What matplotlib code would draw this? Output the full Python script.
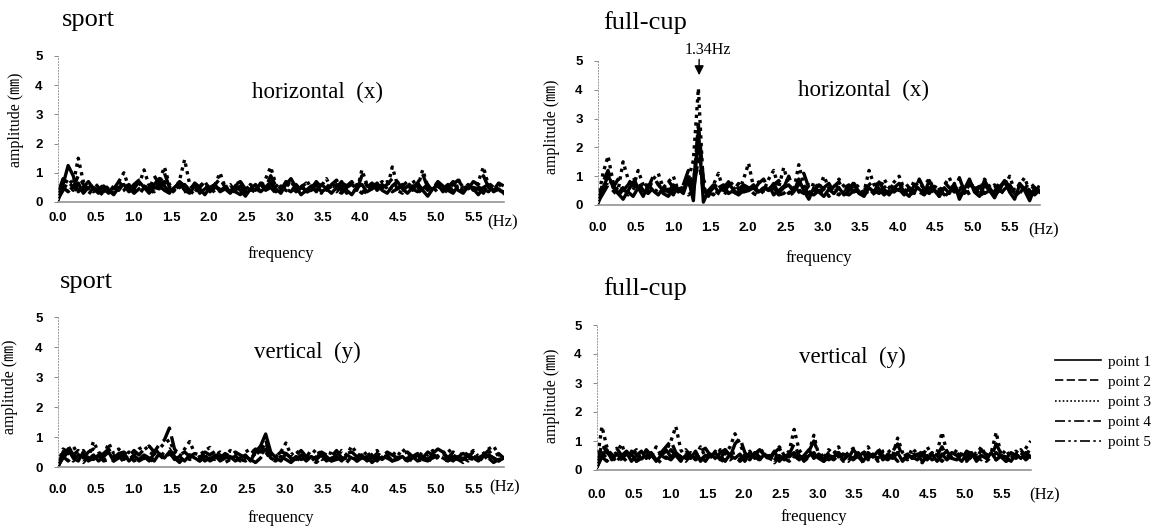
import numpy as np
import matplotlib
matplotlib.use("Agg")
import matplotlib.pyplot as plt
from matplotlib.lines import Line2D

# frequency resolution of the spectra (Hz)
DF = 0.067

# ---------------- sport, horizontal (x) ----------------
tl_p1 = [0.05,0.6,1.25,0.9,0.35,0.5,0.7,0.45,0.3,0.55,
         0.4,0.25,0.5,0.6,0.35,0.45,0.7,0.5,0.3,0.6,
         0.8,0.55,0.35,0.5,0.65,0.4,0.3,0.55,0.45,0.25,
         0.5,0.6,0.35,0.45,0.3,0.55,0.4,0.2,0.45,0.6,
         0.35,0.5,0.7,0.45,0.3,0.6,0.8,0.5,0.25,0.4,
         0.55,0.35,0.6,0.45,0.3,0.5,0.7,0.4,0.25,0.5,
         0.6,0.35,0.45,0.65,0.4,0.3,0.55,0.7,0.45,0.3,
         0.5,0.65,0.4,0.2,0.45,0.6,0.35,0.5,0.7,0.4,
         0.3,0.55,0.45,0.25,0.5,0.6,0.35,0.45,0.3]
tl_p2 = [0.1,0.4,0.7,0.5,0.9,0.6,0.45,0.7,0.5,0.35,
         0.6,0.45,0.7,0.5,0.4,0.6,0.75,0.55,0.4,0.9,
         0.6,1.0,0.5,0.45,0.7,0.55,0.4,0.65,0.5,0.7,
         0.45,0.6,0.8,0.5,0.35,0.6,0.7,0.45,0.55,0.4,
         0.65,0.5,0.9,0.55,0.4,0.7,0.6,0.35,0.5,0.65,
         0.45,0.7,0.5,0.4,0.6,0.75,0.45,0.55,0.7,0.4,
         0.9,0.55,0.45,0.7,0.5,0.6,0.8,0.45,0.55,0.7,
         0.4,0.65,0.95,0.5,0.45,0.7,0.55,0.4,0.6,0.75,
         0.5,0.45,0.7,0.6,0.9,0.5,0.4,0.65,0.55]
tl_p3 = [0.2,0.5,0.8,0.6,1.5,0.7,0.4,0.55,0.35,0.6,
         0.45,0.3,0.7,1.0,0.5,0.4,0.6,1.1,0.55,0.35,
         0.7,1.2,0.6,0.4,0.75,1.45,0.6,0.35,0.55,0.7,
         0.4,0.6,1.0,0.5,0.3,0.55,0.7,0.4,0.6,0.45,
         0.55,0.8,1.2,0.6,0.4,0.5,0.7,0.45,0.35,0.6,
         0.7,0.4,0.55,0.8,0.45,0.6,0.4,0.7,0.5,0.35,
         1.1,0.6,0.4,0.55,0.7,0.45,1.2,0.6,0.35,0.5,
         0.75,0.5,1.1,0.55,0.4,0.65,0.5,0.3,0.6,0.8,
         0.45,0.6,0.4,0.7,1.2,0.55,0.4,0.6,0.5]
tl_p4 = [0.3,0.8,0.6,0.4,0.65,0.3,0.5,0.35,0.6,0.45,
         0.3,0.55,0.4,0.65,0.5,0.3,0.45,0.6,0.35,0.5,
         0.45,0.7,0.55,0.3,0.5,0.6,0.4,0.25,0.5,0.6,
         0.35,0.5,0.45,0.6,0.3,0.4,0.55,0.35,0.25,0.5,
         0.6,0.4,0.5,0.3,0.55,0.45,0.35,0.6,0.4,0.3,
         0.5,0.6,0.35,0.45,0.7,0.4,0.3,0.5,0.6,0.45,
         0.3,0.5,0.65,0.4,0.55,0.7,0.35,0.45,0.6,0.4,
         0.55,0.3,0.45,0.6,0.35,0.5,0.65,0.4,0.3,0.55,
         0.6,0.35,0.5,0.45,0.3,0.65,0.5,0.4,0.35]
tl_p5 = [0.15,0.5,0.35,0.55,0.3,0.45,0.25,0.5,0.4,0.2,
         0.45,0.55,0.3,0.4,0.6,0.35,0.25,0.5,0.45,0.3,
         0.55,0.4,0.3,0.6,0.45,0.35,0.5,0.6,0.3,0.45,
         0.55,0.3,0.4,0.5,0.6,0.35,0.25,0.5,0.4,0.55,
         0.3,0.45,0.6,0.35,0.5,0.4,0.3,0.55,0.6,0.35,
         0.4,0.5,0.3,0.6,0.45,0.35,0.55,0.3,0.45,0.6,
         0.4,0.3,0.55,0.45,0.6,0.35,0.5,0.4,0.3,0.55,
         0.45,0.35,0.6,0.4,0.55,0.3,0.45,0.6,0.35,0.5,
         0.4,0.6,0.3,0.5,0.45,0.35,0.55,0.4,0.3]

# ---------------- full-cup, horizontal (x) ----------------
tr_p1 = [0.05,0.6,1.0,0.7,0.4,0.2,0.5,0.8,0.6,0.3,
         0.7,0.5,0.35,0.6,0.45,0.7,0.55,0.4,0.9,0.15,
         2.6,0.1,0.5,0.7,0.45,0.6,0.8,0.5,0.4,0.65,
         0.55,0.7,0.45,0.6,0.5,0.75,0.4,0.6,0.7,0.45,
         0.9,0.5,0.2,0.6,0.45,0.3,0.55,0.4,0.6,0.35,
         0.5,0.7,0.4,0.3,0.6,0.45,0.8,0.5,0.35,0.6,
         0.75,0.45,0.3,0.7,0.55,0.4,0.85,0.5,0.3,0.6,
         0.4,0.75,0.2,0.55,0.9,0.45,0.3,0.7,0.5,0.25,
         0.6,0.85,0.45,0.2,0.7,0.5,0.15,0.6,0.45]
tr_p2 = [0.1,0.8,1.2,0.6,0.9,0.5,0.7,1.0,0.55,0.8,
         0.6,1.0,0.7,0.5,0.85,0.6,0.45,0.7,1.2,0.6,
         2.8,0.9,0.4,0.6,0.75,0.5,0.65,0.8,0.55,0.7,
         0.6,0.5,0.75,0.9,0.55,0.7,0.85,0.6,1.0,0.5,
         0.7,1.1,0.6,0.45,0.7,0.55,0.4,0.65,0.8,0.5,
         0.6,0.75,0.5,0.4,0.7,0.85,0.55,0.45,0.7,0.6,
         0.5,0.8,0.6,0.4,0.9,0.55,0.7,0.5,0.45,0.8,
         0.6,0.5,0.95,0.45,0.7,0.6,0.4,0.85,0.55,0.7,
         0.5,0.9,0.6,0.4,0.75,0.55,0.8,0.6,0.5]
tr_p3 = [0.2,1.1,1.7,0.8,0.5,1.5,0.9,0.6,1.2,0.7,
         0.5,0.9,1.1,0.6,0.8,1.0,0.5,0.7,0.9,1.55,
         4.05,0.6,0.3,0.7,1.1,0.5,0.8,0.6,0.45,0.9,
         1.45,0.6,0.8,0.5,0.9,1.2,0.6,1.3,0.7,0.5,
         1.4,0.7,0.3,0.8,0.55,1.0,0.6,0.4,0.9,0.65,
         0.5,0.8,0.6,0.45,1.2,0.7,0.5,0.9,0.6,0.8,
         1.0,0.55,0.4,0.85,0.6,0.7,0.9,0.5,0.3,0.7,
         0.95,0.5,0.7,0.4,0.8,0.6,0.5,0.9,0.65,0.45,
         0.8,0.6,1.0,0.5,0.7,0.95,0.45,0.7,0.6]
tr_p4 = [0.15,0.5,0.9,0.7,0.4,0.6,0.35,0.55,0.8,0.5,
         0.4,0.6,0.75,0.45,0.55,0.35,0.7,0.5,0.6,0.8,
         2.2,0.6,0.45,0.35,0.6,0.7,0.4,0.5,0.75,0.45,
         0.5,0.6,0.4,0.55,0.7,0.35,0.5,0.65,0.4,0.6,
         0.5,0.4,0.7,0.55,0.3,0.6,0.75,0.45,0.35,0.6,
         0.7,0.45,0.55,0.65,0.35,0.5,0.4,0.6,0.75,0.45,
         0.55,0.35,0.6,0.45,0.7,0.5,0.4,0.65,0.55,0.35,
         0.6,0.45,0.5,0.7,0.35,0.55,0.65,0.4,0.5,0.6,
         0.35,0.55,0.7,0.45,0.4,0.65,0.5,0.35,0.55]
tr_p5 = [0.1,0.4,0.7,0.5,0.3,0.55,0.45,0.3,0.6,0.4,
         0.5,0.35,0.6,0.4,0.3,0.55,0.45,0.6,0.35,0.5,
         1.6,0.5,0.35,0.55,0.4,0.3,0.6,0.45,0.35,0.5,
         0.6,0.4,0.3,0.5,0.45,0.6,0.35,0.4,0.55,0.3,
         0.45,0.6,0.4,0.35,0.5,0.55,0.3,0.45,0.6,0.4,
         0.35,0.5,0.45,0.6,0.3,0.4,0.55,0.35,0.5,0.45,
         0.6,0.4,0.3,0.5,0.45,0.35,0.6,0.4,0.55,0.3,
         0.45,0.6,0.35,0.5,0.4,0.55,0.3,0.45,0.6,0.35,
         0.5,0.4,0.55,0.3,0.45,0.6,0.35,0.5,0.4]

# ---------------- sport, vertical (y) ----------------
bl_p1 = [0.0,0.4,0.6,0.3,0.2,0.5,0.25,0.4,0.2,0.35,
         0.5,0.2,0.3,0.45,0.2,0.35,0.25,0.4,0.3,0.2,
         0.45,0.3,0.5,0.25,0.35,0.2,0.4,0.3,0.2,0.35,
         0.25,0.4,0.2,0.3,0.35,0.2,0.3,0.4,0.2,0.5,
         0.7,1.1,0.5,0.3,0.2,0.45,0.3,0.25,0.4,0.2,
         0.35,0.25,0.4,0.2,0.3,0.35,0.2,0.4,0.3,0.25,
         0.4,0.2,0.3,0.35,0.25,0.4,0.2,0.3,0.35,0.2,
         0.3,0.4,0.25,0.2,0.45,0.6,0.5,0.3,0.2,0.35,
         0.25,0.4,0.3,0.2,0.35,0.4,0.3,0.2,0.3]
bl_p2 = [0.05,0.5,0.7,0.4,0.55,0.3,0.5,0.6,0.35,0.45,
         0.6,0.3,0.45,0.5,0.35,0.55,0.4,0.6,0.7,0.5,
         0.75,0.9,1.3,0.6,0.4,0.5,0.35,0.45,0.3,0.5,
         0.4,0.55,0.3,0.45,0.35,0.5,0.4,0.3,0.45,0.6,
         0.5,0.9,0.4,0.35,0.5,0.45,0.3,0.4,0.55,0.35,
         0.45,0.3,0.5,0.4,0.35,0.55,0.3,0.45,0.5,0.35,
         0.4,0.5,0.3,0.45,0.35,0.5,0.4,0.3,0.45,0.5,
         0.35,0.45,0.3,0.5,0.4,0.35,0.45,0.3,0.5,0.4,
         0.45,0.35,0.5,0.3,0.4,0.55,0.35,0.45,0.3]
bl_p3 = [0.1,0.6,0.5,0.7,0.4,0.55,0.3,0.85,0.5,0.35,
         0.8,0.45,0.6,0.35,0.5,0.4,0.6,0.7,0.5,0.4,
         0.6,0.8,0.9,0.5,0.35,0.6,0.85,0.45,0.4,0.55,
         0.65,0.4,0.5,0.35,0.55,0.45,0.3,0.5,0.6,0.4,
         0.55,0.8,0.45,0.35,0.5,0.8,0.4,0.55,0.35,0.5,
         0.4,0.6,0.35,0.5,0.45,0.3,0.55,0.4,0.7,0.45,
         0.35,0.5,0.4,0.55,0.3,0.45,0.5,0.35,0.6,0.4,
         0.45,0.3,0.5,0.4,0.55,0.35,0.45,0.6,0.4,0.3,
         0.5,0.4,0.55,0.35,0.45,0.6,0.7,0.4,0.5]
bl_p4 = [0.05,0.3,0.5,0.2,0.35,0.45,0.2,0.3,0.4,0.25,
         0.3,0.2,0.35,0.25,0.4,0.2,0.3,0.35,0.2,0.45,
         0.3,0.5,0.6,0.35,0.2,0.3,0.4,0.25,0.35,0.2,
         0.3,0.25,0.4,0.2,0.3,0.35,0.25,0.2,0.3,0.45,
         0.4,0.6,0.3,0.2,0.35,0.3,0.2,0.35,0.25,0.3,
         0.2,0.35,0.25,0.3,0.2,0.4,0.25,0.3,0.35,0.2,
         0.3,0.25,0.35,0.2,0.4,0.3,0.2,0.25,0.35,0.3,
         0.2,0.3,0.35,0.25,0.3,0.4,0.3,0.2,0.35,0.25,
         0.3,0.2,0.35,0.3,0.25,0.4,0.3,0.2,0.35]
bl_p5 = [0.02,0.35,0.2,0.4,0.3,0.15,0.35,0.25,0.4,0.2,
         0.25,0.35,0.15,0.3,0.25,0.4,0.2,0.3,0.15,0.35,
         0.4,0.25,0.45,0.3,0.15,0.35,0.25,0.3,0.2,0.4,
         0.2,0.3,0.35,0.15,0.25,0.3,0.2,0.35,0.25,0.15,
         0.3,0.5,0.25,0.2,0.35,0.25,0.15,0.3,0.2,0.35,
         0.25,0.15,0.3,0.35,0.2,0.25,0.3,0.15,0.35,0.2,
         0.25,0.35,0.15,0.3,0.2,0.35,0.25,0.3,0.15,0.3,
         0.35,0.2,0.25,0.3,0.15,0.35,0.25,0.2,0.3,0.25,
         0.15,0.3,0.25,0.35,0.2,0.3,0.15,0.25,0.3]

# ---------------- full-cup, vertical (y) ----------------
br_p1 = [0.1,0.5,0.7,0.35,0.55,0.4,0.6,0.3,0.5,0.65,
         0.4,0.55,0.3,0.5,0.7,0.45,0.6,0.35,0.5,0.4,
         0.65,0.3,0.5,0.45,0.6,0.35,0.7,0.5,0.4,0.55,
         0.3,0.6,0.45,0.35,0.55,0.4,0.65,0.3,0.5,0.45,
         0.6,0.35,0.5,0.7,0.4,0.55,0.3,0.5,0.45,0.6,
         0.35,0.5,0.4,0.6,0.3,0.55,0.45,0.65,0.35,0.5,
         0.4,0.6,0.3,0.5,0.45,0.35,0.6,0.4,0.55,0.3,
         0.5,0.65,0.4,0.35,0.55,0.45,0.6,0.3,0.5,0.4,
         0.6,0.35,0.5,0.45,0.3,0.55,0.4,0.6,0.45]
br_p2 = [0.2,0.9,0.6,0.45,0.75,0.5,0.3,0.65,0.55,0.4,
         0.7,0.5,0.35,0.6,0.8,1.0,0.6,0.45,0.7,0.5,
         0.4,0.65,0.75,0.5,0.35,0.6,0.7,0.45,0.9,1.1,
         0.6,0.4,0.55,0.7,0.5,0.35,0.6,0.75,0.45,0.55,
         0.9,0.5,0.4,0.65,1.0,0.55,0.35,0.6,0.7,0.45,
         0.55,0.4,0.7,0.5,0.35,0.6,0.45,0.75,0.5,0.4,
         0.65,0.9,0.45,0.55,0.4,0.7,0.5,0.35,0.6,0.5,
         0.8,0.45,0.6,0.5,0.35,0.65,0.55,0.4,0.7,0.5,
         0.45,0.9,0.55,0.4,0.6,0.5,0.7,0.45,0.8]
br_p3 = [0.3,1.5,0.8,0.5,0.6,0.9,0.4,0.55,0.7,0.35,
         0.6,0.45,0.8,0.5,0.65,1.0,1.5,0.7,0.4,0.6,
         0.5,0.8,0.45,0.6,0.35,0.7,0.55,0.8,1.25,0.9,
         0.5,0.65,0.4,0.75,0.55,0.3,0.6,0.8,0.5,0.65,
         1.4,0.7,0.45,0.6,1.2,0.5,0.4,0.7,0.55,0.8,
         0.45,0.6,0.75,0.35,0.55,0.8,0.5,0.4,0.65,0.7,
         0.5,1.1,0.6,0.4,0.75,0.55,0.45,0.8,0.5,0.6,
         1.3,0.6,0.45,0.7,0.5,0.35,0.65,0.55,0.8,0.45,
         0.6,1.3,0.5,0.7,0.4,0.65,0.5,0.75,1.0]
br_p4 = [0.15,0.6,0.4,0.55,0.3,0.5,0.65,0.4,0.3,0.55,
         0.45,0.6,0.35,0.5,0.4,0.7,0.5,0.3,0.55,0.45,
         0.6,0.35,0.5,0.4,0.65,0.45,0.3,0.55,0.6,0.4,
         0.5,0.35,0.6,0.45,0.3,0.55,0.4,0.5,0.35,0.6,
         0.45,0.55,0.3,0.5,0.6,0.4,0.55,0.35,0.45,0.6,
         0.4,0.3,0.55,0.45,0.6,0.35,0.5,0.4,0.3,0.55,
         0.45,0.6,0.35,0.5,0.4,0.55,0.3,0.45,0.6,0.4,
         0.55,0.35,0.5,0.6,0.4,0.3,0.5,0.45,0.35,0.55,
         0.4,0.6,0.45,0.3,0.5,0.4,0.55,0.35,0.5]
br_p5 = [0.1,0.45,0.3,0.5,0.25,0.4,0.35,0.55,0.3,0.4,
         0.3,0.5,0.4,0.25,0.45,0.35,0.55,0.4,0.3,0.5,
         0.35,0.45,0.3,0.55,0.4,0.25,0.45,0.35,0.5,0.3,
         0.45,0.55,0.3,0.4,0.35,0.5,0.25,0.45,0.4,0.3,
         0.5,0.35,0.45,0.3,0.55,0.4,0.3,0.45,0.35,0.5,
         0.3,0.45,0.35,0.5,0.25,0.4,0.55,0.3,0.45,0.35,
         0.5,0.3,0.45,0.35,0.55,0.4,0.25,0.5,0.35,0.45,
         0.3,0.5,0.4,0.45,0.3,0.55,0.35,0.4,0.5,0.3,
         0.45,0.35,0.5,0.3,0.4,0.55,0.35,0.45,0.3]

series_labels = ["point 1", "point 2", "point 3", "point 4", "point 5"]
panel_titles = ["sport", "full-cup", "sport", "full-cup"]
panel_notes = ["horizontal  (x)", "horizontal  (x)", "vertical  (y)", "vertical  (y)"]
xtick_vals = [0.0, 0.5, 1.0, 1.5, 2.0, 2.5, 3.0, 3.5, 4.0, 4.5, 5.0, 5.5]
ytick_vals = [0, 1, 2, 3, 4, 5]
peak_freq = 1.34
peak_label = "1.34Hz"

panels = [
    [tl_p1, tl_p2, tl_p3, tl_p4, tl_p5],
    [tr_p1, tr_p2, tr_p3, tr_p4, tr_p5],
    [bl_p1, bl_p2, bl_p3, bl_p4, bl_p5],
    [br_p1, br_p2, br_p3, br_p4, br_p5],
]

# ---------------- styling / layout ----------------
W, H = 1164, 526
fig = plt.figure(figsize=(W / 100, H / 100), dpi=100)
SERIF = ["Liberation Serif", "DejaVu Serif"]
SANS = ["Liberation Sans", "DejaVu Sans"]
YLAB_FAM = ["Liberation Serif", "Noto Sans CJK JP", "DejaVu Sans"]

styles = ["-", (0, (5, 2)), (0, (1, 1.3)), (0, (6, 2, 1.5, 2)), (0, (6, 2, 1.5, 2, 1.5, 2))]

# pixel geometry: (x0, x_end, y0, y5)
geo = [
    (58, 504, 202, 56),
    (598, 1040, 205, 61),
    (58, 504, 467, 317),
    (597, 1031, 470, 325),
]
tick_pad = [7, 12, 12, 14]
ylab_x = [24, 560, 18, 560]
ylab_y = [120, 127, 387, 396]
xlab_y = [246, 250, 510, 509]
hz_pos = [(503, 222), (1044, 230), (505, 487), (1045, 495)]
title_pos = [(62, 26), (603, 29), (60, 288), (603, 295)]
note_pos = [(318, 92), (864, 90), (307, 352), (852, 357)]

axes = []
for i, (x0, x1, y0, y5) in enumerate(geo):
    ax = fig.add_axes([x0 / W, (H - y0) / H, (x1 - x0) / W, (y0 - y5) / H])
    axes.append(ax)
    for j, vals in enumerate(panels[i]):
        f = DF * np.arange(len(vals))
        ax.plot(f, vals, color="black", lw=2.4, ls=styles[j], label=series_labels[j],
                solid_joinstyle="round", dash_joinstyle="round")
    ax.set_xlim(0, 5.9)
    ax.set_ylim(0, 5)
    ax.set_xticks(xtick_vals)
    ax.set_xticklabels([f"{v:.1f}" for v in xtick_vals])
    ax.set_yticks(ytick_vals)
    for s in ["top", "right"]:
        ax.spines[s].set_visible(False)
    ax.spines["left"].set_color("#9a9a9a")
    ax.spines["left"].set_linewidth(0.7)
    ax.spines["left"].set_linestyle((0, (1, 2)))
    ax.spines["bottom"].set_color("#8a8a8a")
    ax.spines["bottom"].set_linewidth(1.1)
    ax.tick_params(axis="x", length=0, pad=tick_pad[i])
    ax.tick_params(axis="y", length=3, width=0.7, color="#888888", pad=8)
    for lab in ax.get_xticklabels() + ax.get_yticklabels():
        lab.set_fontfamily(SANS)
        lab.set_fontweight("bold")
        lab.set_fontsize(9.5)
    axw = x1 - x0
    axh = y0 - y5
    ax.set_ylabel("amplitude (㎜)", family=YLAB_FAM, fontsize=11.5)
    ax.yaxis.set_label_coords((ylab_x[i] - x0) / axw, (y0 - ylab_y[i]) / axh)
    ax.set_xlabel("frequency", family=SERIF, fontsize=12)
    ax.xaxis.set_label_coords(((x0 + x1) / 2 - x0) / axw, (y0 - xlab_y[i]) / axh)
    hx, hy = hz_pos[i]
    ax.text((hx - x0) / axw, (y0 - hy) / axh, "(Hz)", transform=ax.transAxes,
            ha="center", va="center", family=SERIF, fontsize=12)
    nx, ny = note_pos[i]
    ax.text((nx - x0) / axw, (y0 - ny) / axh, panel_notes[i], transform=ax.transAxes,
            ha="center", va="center", family=SERIF, fontsize=16.5)
    tx, ty = title_pos[i]
    fig.text(tx / W, (H - ty) / H, panel_titles[i], ha="left", va="baseline",
             family=SERIF, fontsize=19)

# peak annotation on full-cup horizontal
ax = axes[1]
ax.annotate("", xy=(peak_freq + 0.01, 4.41), xytext=(peak_freq + 0.01, 5.15),
            arrowprops=dict(arrowstyle="-|>", color="black", lw=1.0, mutation_scale=14),
            annotation_clip=False)
ax.text(peak_freq + 0.13, 5.38, peak_label, ha="center", va="center",
        family=SERIF, fontsize=11.5, clip_on=False)

# legend
handles = [Line2D([0], [0], color="black", lw=1.2, ls=styles[j]) for j in range(5)]
fig.legend(handles, series_labels, loc="upper left",
           bbox_to_anchor=(1055 / W, (H - 355) / H), frameon=False,
           borderaxespad=0, borderpad=0, handlelength=3.0, handletextpad=0.45,
           labelspacing=0.42, prop={"family": SERIF, "size": 11})

fig.savefig("out.png", dpi=100)
